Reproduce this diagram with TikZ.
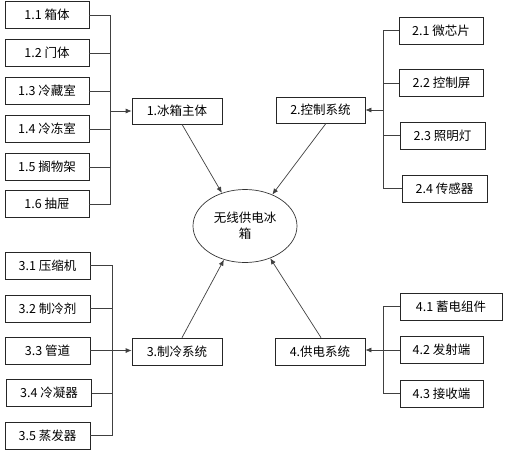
\documentclass[tikz,border=0pt]{standalone}
\usepackage{fontspec}
\setmainfont{Noto Sans CJK SC}
\usetikzlibrary{arrows.meta,shapes.geometric,calc}
\begin{document}
\begin{tikzpicture}[x=1pt,y=-1pt,
  box/.style={draw=black!85,line width=0.7pt,rectangle,inner sep=0pt,minimum height=27pt,font=\fontsize{12.5}{14}\selectfont},
  conn/.style={draw=black!75,line width=0.7pt},
  arr/.style={conn,-{Latex[length=6pt,width=5pt]}}]
\useasboundingbox (0,0) rectangle (505,450);
% centre
\node[draw=black!80,line width=0.7pt,ellipse,minimum width=104pt,minimum height=73pt,inner sep=0pt,align=center,font=\fontsize{12.5}{16}\selectfont] (e) at (245,226) {无线供电冰\\箱};
% group 1
\node[box,minimum width=84pt] (a1) at (47,15) {1.1 箱体};
\node[box,minimum width=84pt] (a2) at (47,53) {1.2 门体};
\node[box,minimum width=84pt] (a3) at (47,91) {1.3 冷藏室};
\node[box,minimum width=84pt] (a4) at (47,129) {1.4 冷冻室};
\node[box,minimum width=84pt] (a5) at (47,167) {1.5 搁物架};
\node[box,minimum width=84pt] (a6) at (47,204) {1.6 抽屉};
\node[box,minimum width=90pt,minimum height=26pt] (b1) at (177,111) {1.冰箱主体};
\coordinate (ba) at (110,0);
\draw[conn] (a1.east) -- (ba |- a1.east) -- (ba |- a6.east) -- (a6.east);
\foreach \i in {2,3,4,5} \draw[conn] (a\i.east) -- (ba |- a\i.east);
\draw[arr] (ba |- b1.west) -- (b1.west);
\draw[arr] ($(b1.south)+(5,0)$) -- (e.125);
% group 2
\node[box,minimum width=84pt] (c1) at (441,30.5) {2.1 微芯片};
\node[box,minimum width=84pt] (c2) at (441.5,83) {2.2 控制屏};
\node[box,minimum width=85pt] (c3) at (442.5,135.5) {2.3 照明灯};
\node[box,minimum width=85pt] (c4) at (444.5,188.5) {2.4 传感器};
\node[box,minimum width=89pt,minimum height=26pt] (b2) at (320.5,110) {2.控制系统};
\coordinate (bc) at (383,0);
\draw[conn] (c1.west) -- (bc |- c1.west) -- (bc |- c4.west) -- (c4.west);
\foreach \i in {2,3} \draw[conn] (c\i.west) -- (bc |- c\i.west);
\draw[arr] (bc |- b2.east) -- (b2.east);
\draw[arr] ($(b2.south)+(5.5,0)$) -- (e.49);
% group 3
\node[box,minimum width=85pt] (d1) at (47.5,265.5) {3.1 压缩机};
\node[box,minimum width=85pt] (d2) at (47.5,308.5) {3.2 制冷剂};
\node[box,minimum width=85pt] (d3) at (47.5,350.5) {3.3 管道};
\node[box,minimum width=85pt] (d4) at (49,393) {3.4 冷凝器};
\node[box,minimum width=85pt] (d5) at (47.5,435.5) {3.5 蒸发器};
\node[box,minimum width=90pt] (b3) at (177,351.5) {3.制冷系统};
\coordinate (bd) at (112,0);
\draw[conn] (d1.east) -- (bd |- d1.east) -- (bd |- d5.east) -- (d5.east);
\foreach \i in {2,4} \draw[conn] (d\i.east) -- (bd |- d\i.east);
\draw[arr] (d3.east) -- (b3.west |- d3.east);
\draw[arr] ($(b3.north)+(5,0)$) -- (e.238);
% group 4
\node[box,minimum width=102pt] (f1) at (451,306.5) {4.1 蓄电组件};
\node[box,minimum width=83pt] (f2) at (441.5,350) {4.2 发射端};
\node[box,minimum width=83pt] (f3) at (441.5,393.5) {4.3 接收端};
\node[box,minimum width=90pt] (b4) at (320,351.5) {4.供电系统};
\coordinate (bf) at (383,0);
\draw[conn] (f1.west) -- (bf |- f1.west) -- (bf |- f3.west) -- (f3.west);
\draw[arr] (f2.west) -- (b4.east |- f2.west);
\draw[arr] ($(b4.north)+(1,0)$) -- (e.308);
\end{tikzpicture}
\end{document}
